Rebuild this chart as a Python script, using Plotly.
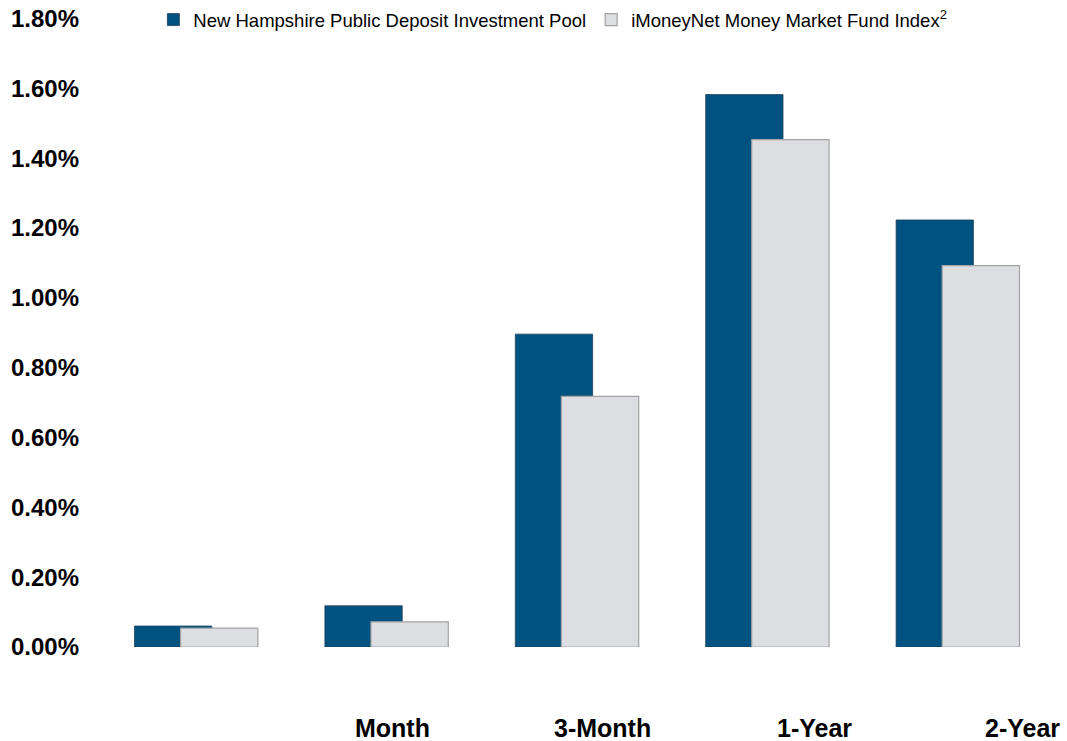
import plotly.graph_objects as go

# ---- data ----
categories = ["", "Month", "3-Month", "1-Year", "2-Year"]
series_names = [
    "New Hampshire Public Deposit Investment Pool",
    "iMoneyNet Money Market Fund Index<sup>2</sup>",
]
pool_values = [0.060, 0.118, 0.896, 1.582, 1.223]
index_values = [0.054, 0.072, 0.718, 1.453, 1.092]
y_ticks = [0.0, 0.2, 0.4, 0.6, 0.8, 1.0, 1.2, 1.4, 1.6, 1.8]

# ---- style ----
DARK = "#005380"
LIGHT = "#dcdee1"
FONT = "Liberation Sans, Arial, sans-serif"
BAR_W = 0.406
# label positions (x axis units) - the labels in the source sit right of the groups
label_x = [0.0, 1.030, 2.133, 3.245, 4.340]
Y_TOP = 1.853  # axis range top (1.80% tick sits just below the top edge)

x_pos = list(range(len(categories)))

fig = go.Figure()
fig.add_trace(go.Bar(
    x=x_pos, y=pool_values, name=series_names[0],
    width=BAR_W, offset=-0.324,
    marker=dict(color=DARK, line=dict(color="#1f3f5c", width=0.8)),
))
fig.add_trace(go.Bar(
    x=x_pos, y=index_values, name=series_names[1],
    width=BAR_W, offset=-0.082,
    marker=dict(color=LIGHT, line=dict(color="#a3a3a3", width=1.2)),
))

for lx, lab in zip(label_x, categories):
    if lab:
        fig.add_annotation(
            x=lx, y=-0.125, xref="x", yref="paper",
            text=f"<b>{lab}</b>", showarrow=False,
            xanchor="center", yanchor="middle",
            font=dict(family=FONT, size=25, color="#000000"),
        )

fig.update_layout(
    width=1067, height=741,
    margin=dict(l=101, r=14, t=0, b=94, autoexpand=False),
    paper_bgcolor="white", plot_bgcolor="white",
    barmode="overlay",
    font=dict(family=FONT, color="#000000"),
    showlegend=True,
    legend=dict(
        orientation="h", x=0.055, xanchor="left", y=0.969, yanchor="middle",
        font=dict(family=FONT, size=18.5, color="#000000"),
        bgcolor="rgba(0,0,0,0)", itemwidth=30, traceorder="normal",
    ),
    xaxis=dict(
        range=[-0.5, 4.5], showticklabels=False, showgrid=False,
        zeroline=False, showline=False, ticks="",
    ),
    yaxis=dict(
        range=[0, Y_TOP], tickvals=y_ticks,
        ticktext=[f"<b>{v:.2f}%</b>" for v in y_ticks],
        showgrid=False, zeroline=False, showline=False, ticks="",
        tickfont=dict(family=FONT, size=24, color="#000000"),
        ticklabelstandoff=21,
    ),
)

fig.write_html(
    "out.html",
    config={"displayModeBar": False},
    post_script="document.body.style.margin='0';document.body.style.overflow='hidden';",
)
